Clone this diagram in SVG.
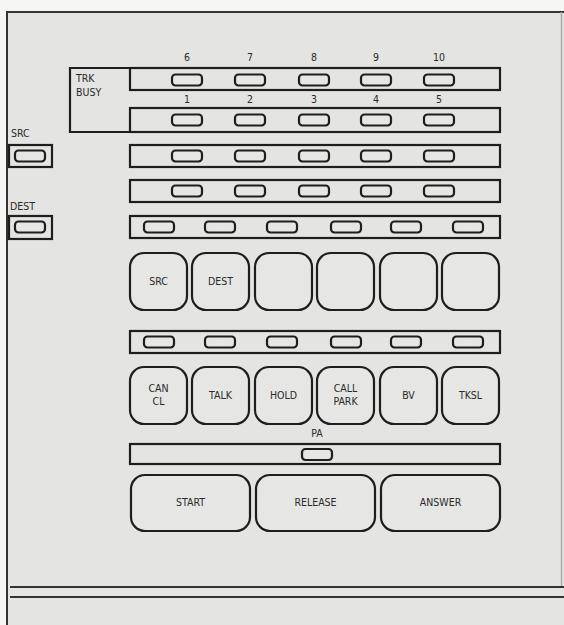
<svg xmlns="http://www.w3.org/2000/svg" width="564" height="625" viewBox="0 0 564 625">
<style>
.ln{fill:none;stroke:#1e1e1e;stroke-width:2.2}
.bar{fill:none;stroke:#1e1e1e;stroke-width:2.2}
.led{fill:#e6e6e4;stroke:#1e1e1e;stroke-width:2.2}
.btn{fill:#e6e6e4;stroke:#1e1e1e;stroke-width:2.2}
text{font-family:"DejaVu Sans Condensed","Liberation Sans",sans-serif;font-size:10.5px;fill:#2a2a2a}
.c{text-anchor:middle}
</style>
<defs>
<rect id="L" x="-15" y="-5.5" width="30" height="11" rx="3.5"/>
</defs>
<rect x="0" y="0" width="564" height="625" fill="#f6f6f5"/>
<rect x="7" y="12" width="557" height="613" fill="#e4e4e2"/>
<g id="frame">
<line x1="6" y1="12" x2="564" y2="12" stroke="#333" stroke-width="2"/>
<line x1="7" y1="11" x2="7" y2="625" stroke="#333" stroke-width="2"/>
<line x1="561.5" y1="12" x2="561.5" y2="587" stroke="#aaa" stroke-width="1.5"/>
<line x1="10" y1="587" x2="564" y2="587" stroke="#333" stroke-width="2"/>
<line x1="10" y1="597" x2="564" y2="597" stroke="#333" stroke-width="2"/>
</g>
<g id="labels">
<text class="c" x="187" y="61">6</text>
<text class="c" x="250" y="61">7</text>
<text class="c" x="314" y="61">8</text>
<text class="c" x="376" y="61">9</text>
<text class="c" x="439" y="61">10</text>
<text class="c" x="187" y="103">1</text>
<text class="c" x="250" y="103">2</text>
<text class="c" x="314" y="103">3</text>
<text class="c" x="376" y="103">4</text>
<text class="c" x="439" y="103">5</text>
</g>
<g id="trk-busy">
<path class="ln" d="M130,68 H70 V132 H130"/>
<text x="76" y="82">TRK</text>
<text x="76" y="96">BUSY</text>
</g>
<g id="src-ind">
<text x="11" y="137">SRC</text>
<rect class="bar" x="9" y="145" width="43" height="22"/>
<use href="#L" class="led" x="30" y="156"/>
</g>
<g id="dest-ind">
<text x="10" y="210">DEST</text>
<rect class="bar" x="9" y="216" width="43" height="23"/>
<use href="#L" class="led" x="30" y="227"/>
</g>
<g id="row1">
<rect class="bar" x="130" y="68" width="370" height="22"/>
<use href="#L" class="led" x="187" y="80"/><use href="#L" class="led" x="250" y="80"/><use href="#L" class="led" x="314" y="80"/><use href="#L" class="led" x="376" y="80"/><use href="#L" class="led" x="439" y="80"/>
</g>
<g id="row2">
<rect class="bar" x="130" y="108" width="370" height="24"/>
<use href="#L" class="led" x="187" y="120"/><use href="#L" class="led" x="250" y="120"/><use href="#L" class="led" x="314" y="120"/><use href="#L" class="led" x="376" y="120"/><use href="#L" class="led" x="439" y="120"/>
</g>
<g id="row3">
<rect class="bar" x="130" y="145" width="370" height="22"/>
<use href="#L" class="led" x="187" y="156"/><use href="#L" class="led" x="250" y="156"/><use href="#L" class="led" x="314" y="156"/><use href="#L" class="led" x="376" y="156"/><use href="#L" class="led" x="439" y="156"/>
</g>
<g id="row4">
<rect class="bar" x="130" y="180" width="370" height="22"/>
<use href="#L" class="led" x="187" y="191"/><use href="#L" class="led" x="250" y="191"/><use href="#L" class="led" x="314" y="191"/><use href="#L" class="led" x="376" y="191"/><use href="#L" class="led" x="439" y="191"/>
</g>
<g id="row5">
<rect class="bar" x="130" y="216" width="370" height="22"/>
<use href="#L" class="led" x="159" y="227"/><use href="#L" class="led" x="220" y="227"/><use href="#L" class="led" x="282" y="227"/><use href="#L" class="led" x="346" y="227"/><use href="#L" class="led" x="406" y="227"/><use href="#L" class="led" x="468" y="227"/>
</g>
<g id="btn-src"><rect class="btn" x="130" y="253" width="57" height="57" rx="14"/><text class="c" x="158.5" y="285">SRC</text></g>
<g id="btn-dest"><rect class="btn" x="192" y="253" width="57" height="57" rx="14"/><text class="c" x="220.5" y="285">DEST</text></g>
<g id="btn-3"><rect class="btn" x="255" y="253" width="57" height="57" rx="14"/></g>
<g id="btn-4"><rect class="btn" x="317" y="253" width="57" height="57" rx="14"/></g>
<g id="btn-5"><rect class="btn" x="380" y="253" width="57" height="57" rx="14"/></g>
<g id="btn-6"><rect class="btn" x="442" y="253" width="57" height="57" rx="14"/></g>
<g id="row6">
<rect class="bar" x="130" y="331" width="370" height="22"/>
<use href="#L" class="led" x="159" y="342"/><use href="#L" class="led" x="220" y="342"/><use href="#L" class="led" x="282" y="342"/><use href="#L" class="led" x="346" y="342"/><use href="#L" class="led" x="406" y="342"/><use href="#L" class="led" x="468" y="342"/>
</g>
<g id="btn-cancl"><rect class="btn" x="130" y="367" width="57" height="57" rx="14"/><text class="c" x="158.5" y="392">CAN</text><text class="c" x="158.5" y="405">CL</text></g>
<g id="btn-talk"><rect class="btn" x="192" y="367" width="57" height="57" rx="14"/><text class="c" x="220.5" y="399">TALK</text></g>
<g id="btn-hold"><rect class="btn" x="255" y="367" width="57" height="57" rx="14"/><text class="c" x="283.5" y="399">HOLD</text></g>
<g id="btn-callpark"><rect class="btn" x="317" y="367" width="57" height="57" rx="14"/><text class="c" x="345.5" y="392">CALL</text><text class="c" x="345.5" y="405">PARK</text></g>
<g id="btn-bv"><rect class="btn" x="380" y="367" width="57" height="57" rx="14"/><text class="c" x="408.5" y="399">BV</text></g>
<g id="btn-tksl"><rect class="btn" x="442" y="367" width="57" height="57" rx="14"/><text class="c" x="470.5" y="399">TKSL</text></g>
<g id="pa">
<text class="c" x="317" y="437">PA</text>
<rect class="bar" x="130" y="444" width="370" height="20"/>
<use href="#L" class="led" x="317" y="454.5"/>
</g>
<g id="btn-start"><rect class="btn" x="131" y="475" width="119" height="56" rx="14"/><text class="c" x="190.5" y="506">START</text></g>
<g id="btn-release"><rect class="btn" x="256" y="475" width="119" height="56" rx="14"/><text class="c" x="315.5" y="506">RELEASE</text></g>
<g id="btn-answer"><rect class="btn" x="381" y="475" width="119" height="56" rx="14"/><text class="c" x="440.5" y="506">ANSWER</text></g>
<g id="connectors"></g>
</svg>
